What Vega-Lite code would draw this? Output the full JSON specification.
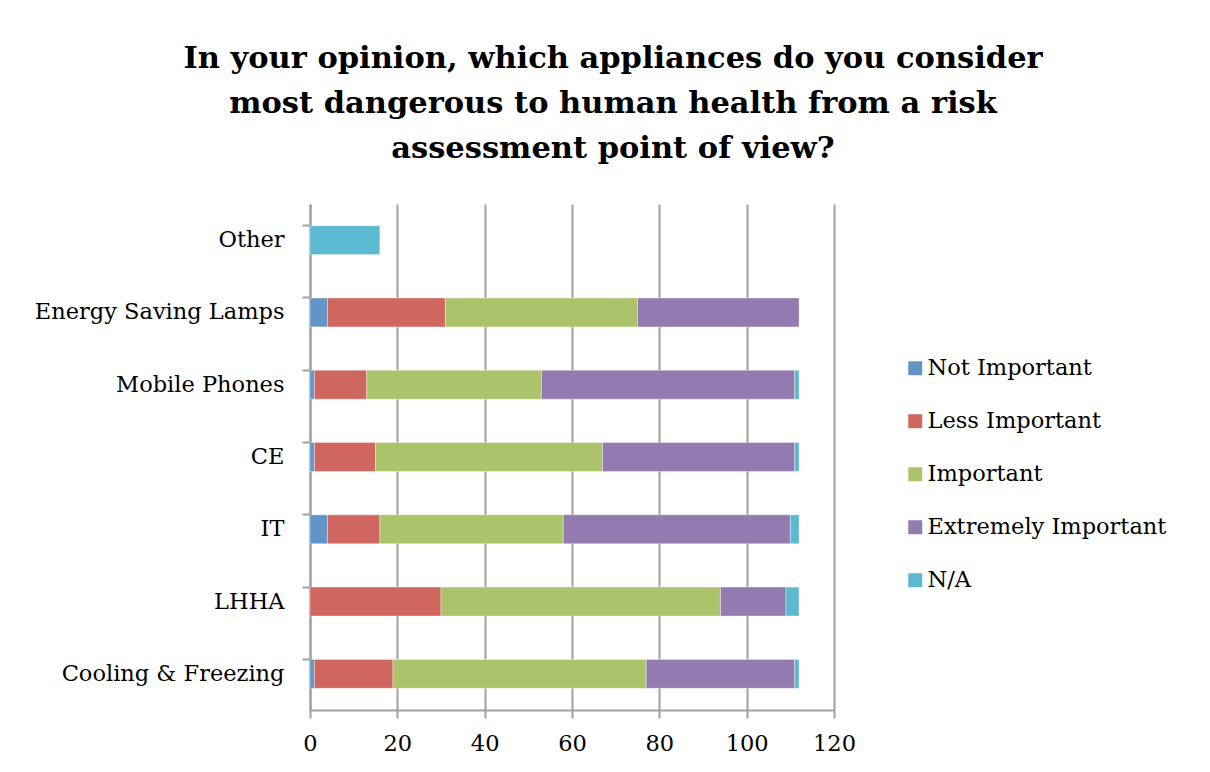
{
  "$schema": "https://vega.github.io/schema/vega-lite/v6.json",
  "width": 524,
  "height": 506,
  "autosize": {"type": "none"},
  "padding": {"left": 310, "top": 204, "right": 376, "bottom": 62},
  "background": "white",
  "title": {
    "text": ["In your opinion, which appliances do you consider", "most dangerous to human health from a risk", "assessment point of view?"],
    "anchor": "middle",
    "frame": "group",
    "dx": 41,
    "offset": 40,
    "font": "DejaVu Serif",
    "fontWeight": "bold",
    "fontSize": 30.5,
    "lineHeight": 45,
    "color": "black"
  },
  "data": {
    "values": [
      {"item": "Other", "rating": "N/A", "ord": 5, "count": 16},
      {"item": "Energy Saving Lamps", "rating": "Not Important", "ord": 1, "count": 4},
      {"item": "Energy Saving Lamps", "rating": "Less Important", "ord": 2, "count": 27},
      {"item": "Energy Saving Lamps", "rating": "Important", "ord": 3, "count": 44},
      {"item": "Energy Saving Lamps", "rating": "Extremely Important", "ord": 4, "count": 37},
      {"item": "Mobile Phones", "rating": "Not Important", "ord": 1, "count": 1},
      {"item": "Mobile Phones", "rating": "Less Important", "ord": 2, "count": 12},
      {"item": "Mobile Phones", "rating": "Important", "ord": 3, "count": 40},
      {"item": "Mobile Phones", "rating": "Extremely Important", "ord": 4, "count": 58},
      {"item": "Mobile Phones", "rating": "N/A", "ord": 5, "count": 1},
      {"item": "CE", "rating": "Not Important", "ord": 1, "count": 1},
      {"item": "CE", "rating": "Less Important", "ord": 2, "count": 14},
      {"item": "CE", "rating": "Important", "ord": 3, "count": 52},
      {"item": "CE", "rating": "Extremely Important", "ord": 4, "count": 44},
      {"item": "CE", "rating": "N/A", "ord": 5, "count": 1},
      {"item": "IT", "rating": "Not Important", "ord": 1, "count": 4},
      {"item": "IT", "rating": "Less Important", "ord": 2, "count": 12},
      {"item": "IT", "rating": "Important", "ord": 3, "count": 42},
      {"item": "IT", "rating": "Extremely Important", "ord": 4, "count": 52},
      {"item": "IT", "rating": "N/A", "ord": 5, "count": 2},
      {"item": "LHHA", "rating": "Less Important", "ord": 2, "count": 30},
      {"item": "LHHA", "rating": "Important", "ord": 3, "count": 64},
      {"item": "LHHA", "rating": "Extremely Important", "ord": 4, "count": 15},
      {"item": "LHHA", "rating": "N/A", "ord": 5, "count": 3},
      {"item": "Cooling & Freezing", "rating": "Not Important", "ord": 1, "count": 1},
      {"item": "Cooling & Freezing", "rating": "Less Important", "ord": 2, "count": 18},
      {"item": "Cooling & Freezing", "rating": "Important", "ord": 3, "count": 58},
      {"item": "Cooling & Freezing", "rating": "Extremely Important", "ord": 4, "count": 34},
      {"item": "Cooling & Freezing", "rating": "N/A", "ord": 5, "count": 1}
    ]
  },
  "mark": {"type": "bar", "stroke": "white", "strokeWidth": 0.6, "strokeOpacity": 0.6},
  "encoding": {
    "y": {
      "field": "item",
      "type": "nominal",
      "sort": ["Other", "Energy Saving Lamps", "Mobile Phones", "CE", "IT", "LHHA", "Cooling & Freezing"],
      "scale": {"paddingInner": 0.6, "paddingOuter": 0.3},
      "axis": {
        "title": null,
        "bandPosition": 0,
        "labelFont": "DejaVu Serif",
        "labelFontSize": 22.5,
        "labelColor": "black",
        "labelLimit": 0,
        "labelPadding": 18,
        "tickSize": 8,
        "tickColor": "#a0a0a0",
        "tickWidth": 2,
        "domainColor": "#a0a0a0",
        "domainWidth": 2,
        "grid": false
      }
    },
    "x": {
      "field": "count",
      "type": "quantitative",
      "stack": "zero",
      "scale": {"domain": [0, 120], "nice": false},
      "axis": {
        "title": null,
        "values": [0, 20, 40, 60, 80, 100, 120],
        "labelFont": "DejaVu Serif",
        "labelFontSize": 22.5,
        "labelColor": "black",
        "labelFlush": false,
        "labelBound": false,
        "labelOverlap": false,
        "labelPadding": 14,
        "tickSize": 8,
        "tickColor": "#a0a0a0",
        "tickWidth": 2,
        "domainColor": "#a0a0a0",
        "domainWidth": 2,
        "grid": true,
        "gridColor": "#a0a0a0",
        "gridWidth": 2
      }
    },
    "color": {
      "field": "rating",
      "type": "nominal",
      "scale": {
        "domain": ["Not Important", "Less Important", "Important", "Extremely Important", "N/A"],
        "range": ["#6195C8", "#CF6760", "#ABC46C", "#937AAF", "#5CB9D1"]
      },
      "legend": {
        "title": null,
        "orient": "none",
        "legendX": 594,
        "legendY": 153,
        "symbolType": "square",
        "symbolSize": 196,
        "symbolStrokeWidth": 0,
        "labelFont": "DejaVu Serif",
        "labelFontSize": 22.5,
        "labelColor": "black",
        "labelLimit": 0,
        "labelOffset": 1,
        "rowPadding": 30
      }
    },
    "order": {"field": "ord", "type": "quantitative"}
  },
  "config": {"view": {"stroke": null}}
}
